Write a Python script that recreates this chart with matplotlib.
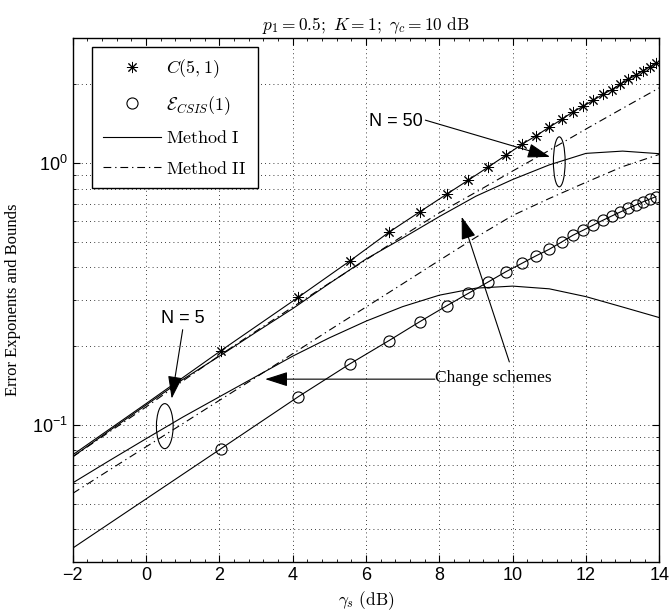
import numpy as np
import matplotlib
matplotlib.use("Agg")
import matplotlib.pyplot as plt
from matplotlib.lines import Line2D
from matplotlib.patches import Ellipse
from matplotlib.ticker import MultipleLocator, LogLocator, NullFormatter

plt.rcParams['font.family'] = ['Liberation Sans', 'DejaVu Sans']
plt.rcParams['mathtext.fontset'] = 'cm'

# marker positions (dB) shared by C(5,1) and E_CSIS(1)
mk_x = [2.04, 4.15, 5.56, 6.63, 7.47, 8.2, 8.79, 9.34, 9.82, 10.25, 10.63, 10.99,
        11.34, 11.64, 11.93, 12.2, 12.46, 12.7, 12.93, 13.15, 13.36, 13.56, 13.75, 13.91]
c51_y = [0.192, 0.307, 0.423, 0.545, 0.652, 0.761, 0.861, 0.968, 1.073, 1.18, 1.27, 1.37,
         1.47, 1.57, 1.65, 1.74, 1.83, 1.91, 2.00, 2.09, 2.17, 2.26, 2.34, 2.41]
csis_y = [0.081, 0.128, 0.171, 0.210, 0.248, 0.285, 0.318, 0.352, 0.385, 0.414, 0.442, 0.468,
          0.50, 0.53, 0.555, 0.58, 0.605, 0.628, 0.65, 0.672, 0.692, 0.712, 0.73, 0.745]

# low-SNR part of the two marked curves (no markers there)
lead_x = [-2, 0]
c51_lead = [0.0768, 0.1205]
csis_lead = [0.0338, 0.0521]

# schemes, sampled every 1 dB
gs = [-2, -1, 0, 1, 2, 3, 4, 5, 6, 7, 8, 9, 10, 11, 12, 13, 14]
m1_n50 = [0.0755, 0.095, 0.119, 0.149, 0.183, 0.226, 0.278, 0.347, 0.430, 0.517, 0.625,
          0.748, 0.866, 0.985, 1.090, 1.112, 1.087]
m2_n50 = [0.0755, 0.094, 0.117, 0.147, 0.184, 0.228, 0.282, 0.348, 0.427, 0.527, 0.646,
          0.775, 0.933, 1.12, 1.35, 1.62, 1.94]
m1_n5 = [0.060, 0.073, 0.0885, 0.107, 0.128, 0.153, 0.183, 0.215, 0.249, 0.283, 0.313,
         0.333, 0.339, 0.331, 0.309, 0.282, 0.257]
m2_n5 = [0.0547, 0.0672, 0.0824, 0.101, 0.124, 0.152, 0.187, 0.23, 0.282, 0.346, 0.425,
         0.521, 0.631, 0.733, 0.845, 0.97, 1.08]

fig = plt.figure(figsize=(6.7, 6.14), dpi=100)
ax = fig.add_axes([0.1085, 0.0852, 0.8755, 0.8524])

lw = 0.8
star = (8, 2, 0)
ax.plot(lead_x + mk_x, c51_lead + c51_y, color='k', lw=lw)
ax.plot(mk_x, c51_y, ls='none', marker=star, ms=8, mec='k', mew=0.7)
ax.plot(lead_x + mk_x, csis_lead + csis_y, color='k', lw=lw)
ax.plot(mk_x, csis_y, ls='none', marker='o', ms=8, mfc='none', mec='k', mew=0.8)

dd = (0, (7, 3.5, 1.2, 3.5))
ax.plot(gs, m1_n50, color='k', lw=lw)
ax.plot(gs, m2_n50, color='k', lw=lw, ls=dd)
ax.plot(gs, m1_n5, color='k', lw=lw)
ax.plot(gs, m2_n5, color='k', lw=lw, ls=dd)

ax.set_yscale('log')
ax.set_xlim(-2, 14)
ax.set_ylim(0.03, 3)
ax.xaxis.set_major_locator(MultipleLocator(2))
ax.xaxis.set_minor_locator(MultipleLocator(0.4))
ax.yaxis.set_minor_locator(LogLocator(base=10, subs=np.arange(2, 10)))
ax.yaxis.set_minor_formatter(NullFormatter())
ax.tick_params(which='both', direction='in', top=True, right=True, labelsize=13)
ax.tick_params(which='major', length=5)
ax.tick_params(which='minor', length=2.5)
ax.grid(True, which='major', axis='x', color='k', ls=(0, (1, 4)), lw=0.6)
ax.grid(True, which='both', axis='y', color='k', ls=(0, (1, 4)), lw=0.6)
for s in ax.spines.values():
    s.set_linewidth(1.0)

ax.set_title(r'$p_1 = 0.5;\ K = 1;\ \gamma_c = 10\ \mathrm{dB}$', fontsize=12.5, pad=6)
ax.set_xlabel(r'$\gamma_s\ \mathrm{(dB)}$', fontsize=12.5, labelpad=4)
ax.set_ylabel('Error Exponents and Bounds', family='Liberation Serif', fontsize=12, labelpad=8)

handles = [
    Line2D([], [], ls='none', marker=star, ms=8, mec='k', mew=0.7),
    Line2D([], [], ls='none', marker='o', ms=8, mfc='none', mec='k', mew=0.8),
    Line2D([], [], color='k', lw=lw),
    Line2D([], [], color='k', lw=lw, ls=dd),
]
labels = [r'$C(5,1)$', r'$\mathcal{E}_{CSIS}(1)$', r'$\mathrm{Method\ I}$', r'$\mathrm{Method\ II}$']
leg = ax.legend(handles, labels, loc='upper left', bbox_to_anchor=(0.0334, 0.984),
                borderaxespad=0, fancybox=False, fontsize=13, handlelength=3.2,
                labelspacing=0.75, handletextpad=0.3, borderpad=0.6, framealpha=1)
leg.get_frame().set_edgecolor('k')
leg.get_frame().set_linewidth(1.0)

arr = dict(arrowstyle='-|>,head_length=1.4,head_width=0.45', color='k', lw=0.8,
           shrinkA=0, shrinkB=0, mutation_scale=10)

ax.text(1.0, 0.254, 'N = 5', ha='center', va='center', fontsize=13)
ax.annotate('', xy=(0.70, 0.126), xytext=(1.0, 0.231), arrowprops=arr)
ax.add_patch(Ellipse((0.157, 0.259), 0.0285, 0.086, transform=ax.transAxes,
                     fill=False, lw=0.8, ec='k'))

ax.text(7.56, 1.44, 'N = 50', ha='right', va='center', fontsize=13)
ax.annotate('', xy=(11.02, 1.057), xytext=(7.62, 1.46), arrowprops=arr)
ax.add_patch(Ellipse((0.8295, 0.764), 0.02, 0.0955, transform=ax.transAxes,
                     fill=False, lw=0.8, ec='k'))

ax.text(7.88, 0.151, 'Change schemes', ha='left', va='center', fontsize=12.5,
        family='Liberation Serif')
ax.annotate('', xy=(3.25, 0.1495), xytext=(7.88, 0.1495), arrowprops=arr)
ax.annotate('', xy=(8.61, 0.624), xytext=(9.91, 0.174), arrowprops=arr)

fig.savefig('out.png', dpi=100)
